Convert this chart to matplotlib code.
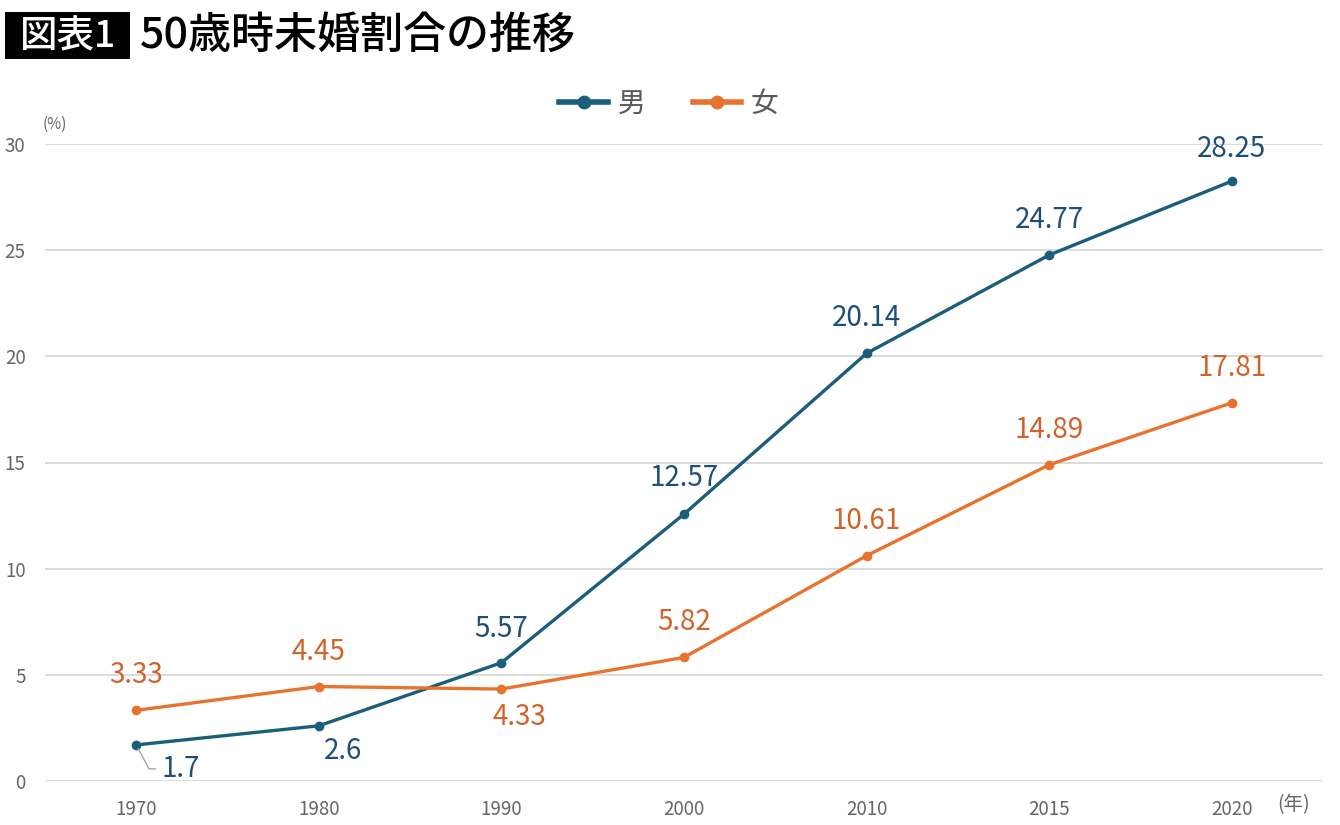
import matplotlib
matplotlib.use("Agg")
import matplotlib.pyplot as plt
from matplotlib.patches import Rectangle
from matplotlib.lines import Line2D

plt.rcParams['font.family'] = ['Noto Sans CJK JP', 'DejaVu Sans']

years = ["1970", "1980", "1990", "2000", "2010", "2015", "2020"]
male = [1.7, 2.6, 5.57, 12.57, 20.14, 24.77, 28.25]
female = [3.33, 4.45, 4.33, 5.82, 10.61, 14.89, 17.81]
male_labels = ["1.7", "2.6", "5.57", "12.57", "20.14", "24.77", "28.25"]
female_labels = ["3.33", "4.45", "4.33", "5.82", "10.61", "14.89", "17.81"]
yticks = [0, 5, 10, 15, 20, 25, 30]

c_male = "#1b5e7b"
c_male_txt = "#1f4e79"
c_fem = "#e8732f"
c_fem_txt = "#d0632a"

fig = plt.figure(figsize=(13.4, 8.25), dpi=100)
ax = fig.add_axes([45/1340, 1-781/825, (1323-45)/1340, (781-144)/825])

x = list(range(len(years)))
ax.plot(x, male, color=c_male, lw=2.4, marker='o', ms=6, zorder=3)
ax.plot(x, female, color=c_fem, lw=2.4, marker='o', ms=6, zorder=3)

ax.set_xlim(-0.5, len(years) - 0.5)
ax.set_ylim(0, 30)
ax.set_yticks(yticks)
ax.set_xticks(x)
ax.set_xticklabels(years)
ax.grid(axis='y', color='#d9d9d9', lw=1.3, zorder=0)
ax.set_axisbelow(True)
for s in ax.spines.values():
    s.set_visible(False)
ax.tick_params(axis='both', length=0, labelsize=13.5, labelcolor='#666666')
ax.tick_params(axis='x', pad=13)
ax.tick_params(axis='y', pad=14)

def px(v):
    return v * 0.72

male_off = [(44, -24), (24, -25), (0, 34), (0, 36), (0, 35), (0, 35), (0, 32)]
fem_off = [(0, 35), (0, 35), (18, -28), (0, 35), (0, 35), (0, 35), (0, 35)]

for i, (v, lab) in enumerate(zip(male, male_labels)):
    dx, dy = male_off[i]
    if i == 0:
        ax.annotate(lab, (x[i], v), xytext=(px(dx), px(dy)), textcoords='offset points',
                    ha='center', va='center', fontsize=20, color=c_male_txt,
                    arrowprops=dict(arrowstyle='-', color='#a6a6a6', lw=1.0,
                                    connectionstyle='angle,angleA=0,angleB=-62,rad=0',
                                    shrinkA=2, shrinkB=3))
    else:
        ax.annotate(lab, (x[i], v), xytext=(px(dx), px(dy)), textcoords='offset points',
                    ha='center', va='center', fontsize=20, color=c_male_txt)

for i, (v, lab) in enumerate(zip(female, female_labels)):
    dx, dy = fem_off[i]
    ax.annotate(lab, (x[i], v), xytext=(px(dx), px(dy)), textcoords='offset points',
                ha='center', va='center', fontsize=20, color=c_fem_txt)

fig.text(55/1340, 1-124/825, "(%)", fontsize=11, color='#666666', ha='center', va='center')
fig.text(1294/1340, 1-805/825, "(年)", fontsize=14, color='#666666', ha='center', va='center')

handles = [Line2D([], [], color=c_male, lw=4, marker='o', ms=9),
           Line2D([], [], color=c_fem, lw=4, marker='o', ms=9)]
fig.legend(handles, ["男", "女"], loc='center', bbox_to_anchor=(669/1340, 1-104/825), ncol=2,
           frameon=False, fontsize=20, handlelength=1.75, columnspacing=1.7, handletextpad=0.35,
           labelcolor='#595959')

fig.patches.append(Rectangle((5/1340, 1-59/825), 125/1340, 47/825, transform=fig.transFigure,
                             facecolor='black', edgecolor='none'))
fig.text(68/1340, 1-36/825, "図表1", fontsize=27, color='white', ha='center', va='center',
         fontweight='medium')
fig.text(140/1340, 1-35/825, "50歳時未婚割合の推移", fontsize=31, color='black', ha='left',
         va='center', fontweight='medium')

fig.savefig("out.png", dpi=100)
